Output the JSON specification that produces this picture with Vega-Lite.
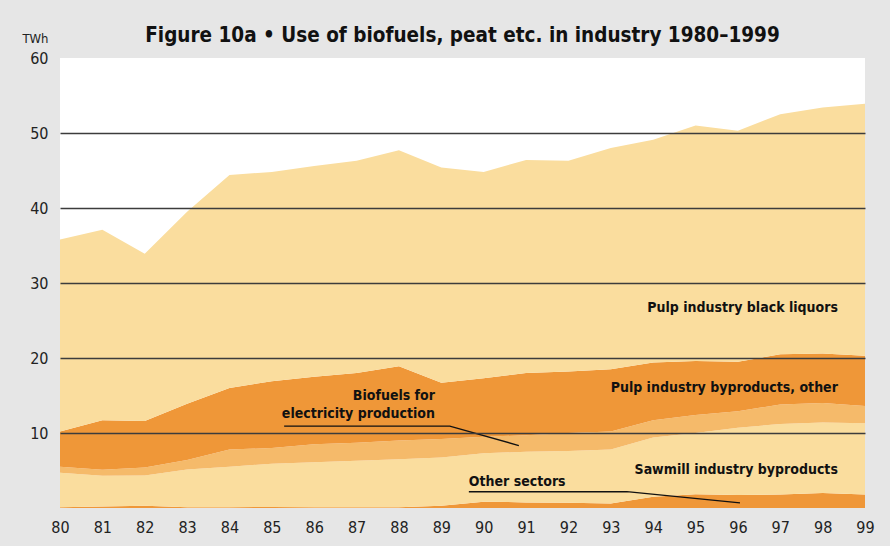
{
  "$schema": "https://vega.github.io/schema/vega-lite/v6.json",
  "width": 805,
  "height": 450,
  "autosize": {"type": "none"},
  "padding": {"left": 60, "top": 58, "right": 25, "bottom": 38},
  "background": "#e6e6e6",
  "config": {
    "view": {"stroke": null, "fill": "white"},
    "font": "DejaVu Sans Condensed, Roboto, sans-serif"
  },
  "title": {
    "text": "Figure 10a • Use of biofuels, peat etc. in industry 1980–1999",
    "font": "DejaVu Sans Condensed, Roboto, sans-serif",
    "fontSize": 20.5,
    "fontWeight": "bold",
    "color": "#111",
    "anchor": "middle",
    "frame": "group",
    "offset": 0,
    "dy": 14
  },
  "datasets": {
    "series": [
      {"year": 80, "series": "Other sectors", "ord": 1, "value": 0.1},
      {"year": 81, "series": "Other sectors", "ord": 1, "value": 0.2},
      {"year": 82, "series": "Other sectors", "ord": 1, "value": 0.3},
      {"year": 83, "series": "Other sectors", "ord": 1, "value": 0.1},
      {"year": 84, "series": "Other sectors", "ord": 1, "value": 0.1},
      {"year": 85, "series": "Other sectors", "ord": 1, "value": 0.15},
      {"year": 86, "series": "Other sectors", "ord": 1, "value": 0.1},
      {"year": 87, "series": "Other sectors", "ord": 1, "value": 0.1},
      {"year": 88, "series": "Other sectors", "ord": 1, "value": 0.1},
      {"year": 89, "series": "Other sectors", "ord": 1, "value": 0.3},
      {"year": 90, "series": "Other sectors", "ord": 1, "value": 0.85},
      {"year": 91, "series": "Other sectors", "ord": 1, "value": 0.75},
      {"year": 92, "series": "Other sectors", "ord": 1, "value": 0.7},
      {"year": 93, "series": "Other sectors", "ord": 1, "value": 0.6},
      {"year": 94, "series": "Other sectors", "ord": 1, "value": 1.5},
      {"year": 95, "series": "Other sectors", "ord": 1, "value": 1.85},
      {"year": 96, "series": "Other sectors", "ord": 1, "value": 1.75},
      {"year": 97, "series": "Other sectors", "ord": 1, "value": 1.8},
      {"year": 98, "series": "Other sectors", "ord": 1, "value": 2.0},
      {"year": 99, "series": "Other sectors", "ord": 1, "value": 1.8},
      {"year": 80, "series": "Sawmill industry byproducts", "ord": 2, "value": 4.6},
      {"year": 81, "series": "Sawmill industry byproducts", "ord": 2, "value": 4.1},
      {"year": 82, "series": "Sawmill industry byproducts", "ord": 2, "value": 4.05},
      {"year": 83, "series": "Sawmill industry byproducts", "ord": 2, "value": 5.05},
      {"year": 84, "series": "Sawmill industry byproducts", "ord": 2, "value": 5.4},
      {"year": 85, "series": "Sawmill industry byproducts", "ord": 2, "value": 5.75},
      {"year": 86, "series": "Sawmill industry byproducts", "ord": 2, "value": 6.0},
      {"year": 87, "series": "Sawmill industry byproducts", "ord": 2, "value": 6.2},
      {"year": 88, "series": "Sawmill industry byproducts", "ord": 2, "value": 6.4},
      {"year": 89, "series": "Sawmill industry byproducts", "ord": 2, "value": 6.45},
      {"year": 90, "series": "Sawmill industry byproducts", "ord": 2, "value": 6.45},
      {"year": 91, "series": "Sawmill industry byproducts", "ord": 2, "value": 6.75},
      {"year": 92, "series": "Sawmill industry byproducts", "ord": 2, "value": 6.9},
      {"year": 93, "series": "Sawmill industry byproducts", "ord": 2, "value": 7.2},
      {"year": 94, "series": "Sawmill industry byproducts", "ord": 2, "value": 7.9},
      {"year": 95, "series": "Sawmill industry byproducts", "ord": 2, "value": 8.15},
      {"year": 96, "series": "Sawmill industry byproducts", "ord": 2, "value": 8.95},
      {"year": 97, "series": "Sawmill industry byproducts", "ord": 2, "value": 9.4},
      {"year": 98, "series": "Sawmill industry byproducts", "ord": 2, "value": 9.4},
      {"year": 99, "series": "Sawmill industry byproducts", "ord": 2, "value": 9.5},
      {"year": 80, "series": "Biofuels for electricity production", "ord": 3, "value": 0.8},
      {"year": 81, "series": "Biofuels for electricity production", "ord": 3, "value": 0.8},
      {"year": 82, "series": "Biofuels for electricity production", "ord": 3, "value": 1.05},
      {"year": 83, "series": "Biofuels for electricity production", "ord": 3, "value": 1.25},
      {"year": 84, "series": "Biofuels for electricity production", "ord": 3, "value": 2.3},
      {"year": 85, "series": "Biofuels for electricity production", "ord": 3, "value": 2.1},
      {"year": 86, "series": "Biofuels for electricity production", "ord": 3, "value": 2.4},
      {"year": 87, "series": "Biofuels for electricity production", "ord": 3, "value": 2.4},
      {"year": 88, "series": "Biofuels for electricity production", "ord": 3, "value": 2.5},
      {"year": 89, "series": "Biofuels for electricity production", "ord": 3, "value": 2.45},
      {"year": 90, "series": "Biofuels for electricity production", "ord": 3, "value": 2.2},
      {"year": 91, "series": "Biofuels for electricity production", "ord": 3, "value": 2.2},
      {"year": 92, "series": "Biofuels for electricity production", "ord": 3, "value": 2.4},
      {"year": 93, "series": "Biofuels for electricity production", "ord": 3, "value": 2.4},
      {"year": 94, "series": "Biofuels for electricity production", "ord": 3, "value": 2.3},
      {"year": 95, "series": "Biofuels for electricity production", "ord": 3, "value": 2.4},
      {"year": 96, "series": "Biofuels for electricity production", "ord": 3, "value": 2.2},
      {"year": 97, "series": "Biofuels for electricity production", "ord": 3, "value": 2.6},
      {"year": 98, "series": "Biofuels for electricity production", "ord": 3, "value": 2.6},
      {"year": 99, "series": "Biofuels for electricity production", "ord": 3, "value": 2.3},
      {"year": 80, "series": "Pulp industry byproducts, other", "ord": 4, "value": 4.7},
      {"year": 81, "series": "Pulp industry byproducts, other", "ord": 4, "value": 6.6},
      {"year": 82, "series": "Pulp industry byproducts, other", "ord": 4, "value": 6.2},
      {"year": 83, "series": "Pulp industry byproducts, other", "ord": 4, "value": 7.5},
      {"year": 84, "series": "Pulp industry byproducts, other", "ord": 4, "value": 8.2},
      {"year": 85, "series": "Pulp industry byproducts, other", "ord": 4, "value": 8.9},
      {"year": 86, "series": "Pulp industry byproducts, other", "ord": 4, "value": 9.0},
      {"year": 87, "series": "Pulp industry byproducts, other", "ord": 4, "value": 9.3},
      {"year": 88, "series": "Pulp industry byproducts, other", "ord": 4, "value": 9.9},
      {"year": 89, "series": "Pulp industry byproducts, other", "ord": 4, "value": 7.5},
      {"year": 90, "series": "Pulp industry byproducts, other", "ord": 4, "value": 7.8},
      {"year": 91, "series": "Pulp industry byproducts, other", "ord": 4, "value": 8.3},
      {"year": 92, "series": "Pulp industry byproducts, other", "ord": 4, "value": 8.2},
      {"year": 93, "series": "Pulp industry byproducts, other", "ord": 4, "value": 8.3},
      {"year": 94, "series": "Pulp industry byproducts, other", "ord": 4, "value": 7.7},
      {"year": 95, "series": "Pulp industry byproducts, other", "ord": 4, "value": 7.2},
      {"year": 96, "series": "Pulp industry byproducts, other", "ord": 4, "value": 6.6},
      {"year": 97, "series": "Pulp industry byproducts, other", "ord": 4, "value": 6.7},
      {"year": 98, "series": "Pulp industry byproducts, other", "ord": 4, "value": 6.6},
      {"year": 99, "series": "Pulp industry byproducts, other", "ord": 4, "value": 6.7},
      {"year": 80, "series": "Pulp industry black liquors", "ord": 5, "value": 25.6},
      {"year": 81, "series": "Pulp industry black liquors", "ord": 5, "value": 25.4},
      {"year": 82, "series": "Pulp industry black liquors", "ord": 5, "value": 22.3},
      {"year": 83, "series": "Pulp industry black liquors", "ord": 5, "value": 25.6},
      {"year": 84, "series": "Pulp industry black liquors", "ord": 5, "value": 28.4},
      {"year": 85, "series": "Pulp industry black liquors", "ord": 5, "value": 27.9},
      {"year": 86, "series": "Pulp industry black liquors", "ord": 5, "value": 28.1},
      {"year": 87, "series": "Pulp industry black liquors", "ord": 5, "value": 28.3},
      {"year": 88, "series": "Pulp industry black liquors", "ord": 5, "value": 28.8},
      {"year": 89, "series": "Pulp industry black liquors", "ord": 5, "value": 28.7},
      {"year": 90, "series": "Pulp industry black liquors", "ord": 5, "value": 27.5},
      {"year": 91, "series": "Pulp industry black liquors", "ord": 5, "value": 28.4},
      {"year": 92, "series": "Pulp industry black liquors", "ord": 5, "value": 28.1},
      {"year": 93, "series": "Pulp industry black liquors", "ord": 5, "value": 29.5},
      {"year": 94, "series": "Pulp industry black liquors", "ord": 5, "value": 29.7},
      {"year": 95, "series": "Pulp industry black liquors", "ord": 5, "value": 31.4},
      {"year": 96, "series": "Pulp industry black liquors", "ord": 5, "value": 30.8},
      {"year": 97, "series": "Pulp industry black liquors", "ord": 5, "value": 32.0},
      {"year": 98, "series": "Pulp industry black liquors", "ord": 5, "value": 32.8},
      {"year": 99, "series": "Pulp industry black liquors", "ord": 5, "value": 33.6}
    ],
    "labels": [
      {"x": 98.36, "y": 26.7, "label": "Pulp industry black liquors", "side": "right"},
      {"x": 98.36, "y": 16.0, "label": "Pulp industry byproducts, other", "side": "right"},
      {"x": 98.36, "y": 5.1, "label": "Sawmill industry byproducts", "side": "right"},
      {"x": 88.85, "y": 14.9, "label": "Biofuels for", "side": "right"},
      {"x": 88.85, "y": 12.5, "label": "electricity production", "side": "right"},
      {"x": 89.65, "y": 3.5, "label": "Other sectors", "side": "left"}
    ],
    "leaders": [
      {"id": "elec", "i": 1, "x": 85.29, "y": 10.93},
      {"id": "elec", "i": 2, "x": 89.2, "y": 10.93},
      {"id": "elec", "i": 3, "x": 90.83, "y": 8.33},
      {"id": "other", "i": 1, "x": 89.65, "y": 2.17},
      {"id": "other", "i": 2, "x": 93.38, "y": 2.17},
      {"id": "other", "i": 3, "x": 96.05, "y": 0.67}
    ]
  },
  "layer": [
    {
      "data": {"name": "series"},
      "mark": {"type": "area", "interpolate": "linear"},
      "encoding": {
        "x": {
          "field": "year",
          "type": "quantitative",
          "scale": {"domain": [80, 99], "nice": false, "zero": false},
          "axis": {
            "values": [80, 81, 82, 83, 84, 85, 86, 87, 88, 89, 90, 91, 92, 93, 94, 95, 96, 97, 98, 99],
            "format": "d",
            "grid": false,
            "domain": false,
            "ticks": false,
            "labelFontSize": 16,
            "labelColor": "#222",
            "labelPadding": 11,
            "labelFlush": false,
            "title": null
          }
        },
        "y": {
          "field": "value",
          "type": "quantitative",
          "stack": "zero",
          "scale": {"domain": [0, 60], "nice": false},
          "axis": {
            "values": [10, 20, 30, 40, 50, 60],
            "grid": true,
            "gridColor": "#3c3c3c",
            "gridWidth": 1.5,
            "gridOpacity": {"condition": {"test": "datum.value >= 60", "value": 0}, "value": 1},
            "zindex": 1,
            "domain": false,
            "ticks": false,
            "labelFontSize": 16,
            "labelColor": "#222",
            "labelPadding": 12,
            "title": "TWh",
            "titleFontSize": 13,
            "titleFontWeight": "normal",
            "titleColor": "#222",
            "titleAngle": 0,
            "titleAlign": "right",
            "titleBaseline": "alphabetic",
            "titleX": -12,
            "titleY": -16
          }
        },
        "color": {
          "field": "series",
          "type": "nominal",
          "scale": {
            "domain": ["Other sectors", "Sawmill industry byproducts", "Biofuels for electricity production", "Pulp industry byproducts, other", "Pulp industry black liquors"],
            "range": ["#ef9738", "#fadd9e", "#f5ba6a", "#ef9738", "#fadd9e"]
          },
          "legend": null
        },
        "order": {"field": "ord", "type": "quantitative"}
      }
    },
    {
      "data": {"name": "leaders"},
      "mark": {"type": "line", "color": "#111", "strokeWidth": 1.3},
      "encoding": {
        "x": {"field": "x", "type": "quantitative"},
        "y": {"field": "y", "type": "quantitative"},
        "detail": {"field": "id"},
        "order": {"field": "i", "type": "quantitative"}
      }
    },
    {
      "data": {"name": "labels"},
      "transform": [{"filter": "datum.side === 'right'"}],
      "mark": {"type": "text", "align": "right", "baseline": "middle", "fontSize": 14, "fontWeight": "bold", "color": "#111"},
      "encoding": {
        "x": {"field": "x", "type": "quantitative"},
        "y": {"field": "y", "type": "quantitative"},
        "text": {"field": "label"}
      }
    },
    {
      "data": {"name": "labels"},
      "transform": [{"filter": "datum.side === 'left'"}],
      "mark": {"type": "text", "align": "left", "baseline": "middle", "fontSize": 14, "fontWeight": "bold", "color": "#111"},
      "encoding": {
        "x": {"field": "x", "type": "quantitative"},
        "y": {"field": "y", "type": "quantitative"},
        "text": {"field": "label"}
      }
    }
  ]
}
